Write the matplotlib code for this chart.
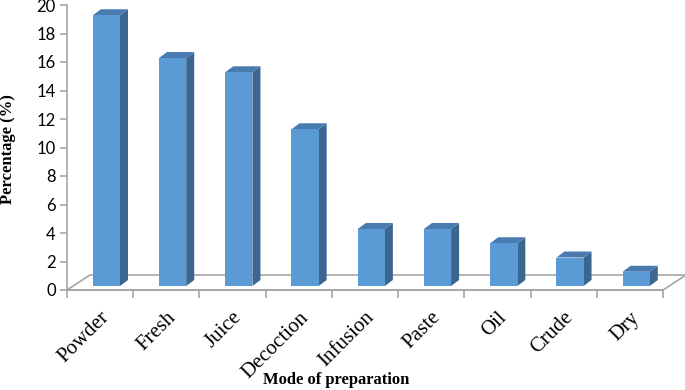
import numpy as np
import matplotlib
matplotlib.use("Agg")
import matplotlib.pyplot as plt
from matplotlib.patches import Polygon
from matplotlib.transforms import ScaledTranslation

categories = ["Powder", "Fresh", "Juice", "Decoction", "Infusion", "Paste", "Oil", "Crude", "Dry"]
values = [19, 16, 15, 11, 4, 4, 3, 2, 1]
yticks = [0, 2, 4, 6, 8, 10, 12, 14, 16, 18, 20]

front = "#5b9bd5"
side = "#3a6690"
top = "#4a7bb0"
grey = "#a6a6a6"

fig = plt.figure(figsize=(6.85, 3.9), dpi=100)
ax = fig.add_axes([67/685, 100/390, 596/685, 285/390])
ax.set_xlim(0, 9)
ax.set_ylim(0, 20)

# floor (3d depth)
fdx, fdy = 0.347, 1.05
floor = Polygon([(0, 0), (9, 0), (9+fdx, fdy), (fdx, fdy)], closed=True,
                facecolor="white", edgecolor=grey, lw=1.2, clip_on=False, zorder=1)
ax.add_patch(floor)

# bars
bdx, bdy = 0.121, 0.42
base = 0.28
w = 0.41
for i, v in enumerate(values):
    x0 = i + 0.39
    x1 = x0 + w
    y1 = base + v
    ax.add_patch(Polygon([(x1, base), (x1+bdx, base+bdy), (x1+bdx, y1+bdy), (x1, y1)],
                         facecolor=side, edgecolor="none", clip_on=False, zorder=3))
    ax.add_patch(Polygon([(x0, y1), (x1, y1), (x1+bdx, y1+bdy), (x0+bdx, y1+bdy)],
                         facecolor=top, edgecolor="none", clip_on=False, zorder=3))
    ax.add_patch(Polygon([(x0, base), (x1, base), (x1, y1), (x0, y1)],
                         facecolor=front, edgecolor="none", clip_on=False, zorder=4))

for s in ["top", "right"]:
    ax.spines[s].set_visible(False)
for s in ["left", "bottom"]:
    ax.spines[s].set_color(grey)
    ax.spines[s].set_linewidth(1.2)

ax.set_yticks(yticks)
ax.set_yticklabels([str(t) for t in yticks], fontsize=12, family="Lato")
ax.set_xticks(np.arange(0, 10), minor=False)
ax.set_xticklabels([])
ax.set_xticks(np.arange(9) + 0.5, minor=True)
ax.set_xticklabels(categories, minor=True, rotation=45, ha="right", va="top",
                   rotation_mode="anchor", fontsize=15, family="Liberation Serif")
shift = ScaledTranslation(3/100, 0, fig.dpi_scale_trans)
for lab in ax.get_xticklabels(minor=True):
    lab.set_transform(lab.get_transform() + shift)
ax.tick_params(axis="x", which="minor", length=0, pad=13)
ax.tick_params(axis="x", which="major", length=6, color=grey, width=1.2)
ax.tick_params(axis="y", length=5, color=grey, width=1.2, pad=3)

ax.set_ylabel("Percentage (%)", fontsize=12, fontweight="bold", family="Liberation Serif")
ax.yaxis.set_label_coords(-0.086, 0.495)
ax.set_xlabel("Mode of preparation", fontsize=12, fontweight="bold", family="Liberation Serif")
ax.xaxis.set_label_coords(0.451, -0.288)

fig.savefig("out.png", dpi=100)
